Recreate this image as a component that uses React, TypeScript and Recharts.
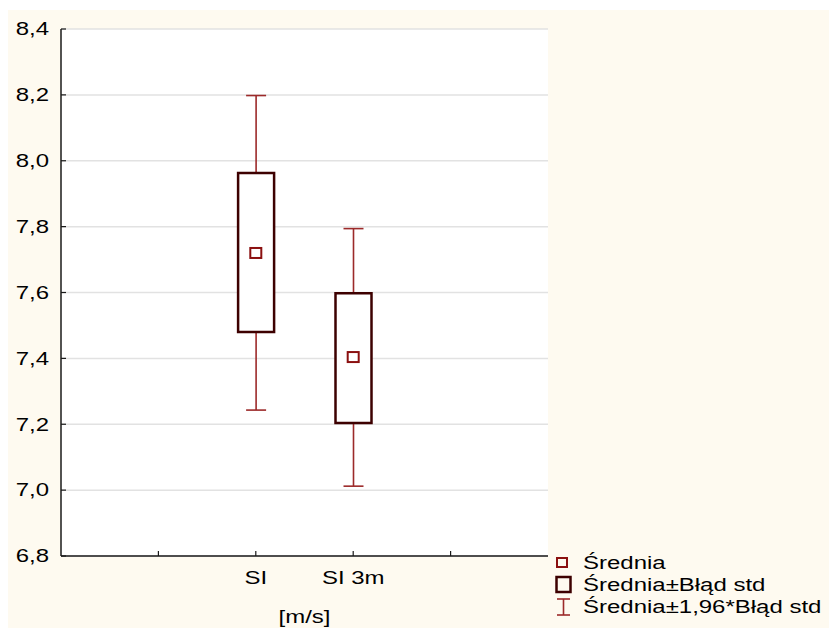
import React from 'react';
import { ComposedChart, Bar, Scatter, XAxis, YAxis, CartesianGrid } from 'recharts';

const categories = ['SI', 'SI 3m'];
const positions = [2, 3];
const means = [7.72, 7.404];
const seLow = [7.48, 7.204];
const seHigh = [7.963, 7.598];
const ciLow = [7.243, 7.012];
const ciHigh = [8.198, 7.794];
const yTicks = [6.8, 7.0, 7.2, 7.4, 7.6, 7.8, 8.0, 8.2, 8.4];
const xTicks = [1, 2, 3, 4];
const xDomain = [0, 5];
const xAxisTitle = '[m/s]';
const legendLabels = ['Średnia', 'Średnia±Błąd std', 'Średnia±1,96*Błąd std'];

const data = categories.map((c, i) => ({
  name: c,
  x: positions[i],
  mean: means[i],
  box: [seLow[i], seHigh[i]],
  whisker: [ciLow[i], ciHigh[i]],
}));

const WHISKER = '#9c2a2a';
const BOX = '#3d0000';
const MEAN = '#8b1010';
const FONT = '"Liberation Sans", Arial, sans-serif';
const STRETCH = 1.37;
const FS = 17.5;

const WhiskerShape = (props: any) => {
  const { x, y, width, height } = props;
  const top = Math.min(y, y + height);
  const bot = Math.max(y, y + height);
  const cx = x + width / 2;
  return (
    <g stroke={WHISKER} strokeWidth={1.6}>
      <line x1={cx} x2={cx} y1={top} y2={bot} />
      <line x1={x} x2={x + width} y1={top} y2={top} />
      <line x1={x} x2={x + width} y1={bot} y2={bot} />
    </g>
  );
};

const MeanShape = (props: any) => {
  const { cx, cy } = props;
  return <rect x={cx - 5.5} y={cy - 5} width={11} height={10} fill="none" stroke={MEAN} strokeWidth={2} />;
};

const xFmt = (v: number) => {
  const i = positions.indexOf(v);
  return i >= 0 ? categories[i] : '';
};
const yFmt = (v: number) => v.toFixed(1).replace('.', ',');

const YTick = (props: any) => {
  const { x, y, payload } = props;
  return (
    <text transform={`translate(${x},${y}) scale(${STRETCH},1)`} x={0} y={0} dy="0.36em" textAnchor="end" fill="#000" fontSize={FS} fontFamily={FONT}>
      {yFmt(payload.value)}
    </text>
  );
};

const XTick = (props: any) => {
  const { x, y, payload } = props;
  return (
    <text transform={`translate(${x},${y}) scale(${STRETCH},1)`} x={0} y={0} dy="0.71em" textAnchor="middle" fill="#000" fontSize={FS} fontFamily={FONT}>
      {xFmt(payload.value)}
    </text>
  );
};

const XTitle = (props: any) => {
  const vb = props.viewBox || {};
  const cx = vb.x + vb.width / 2;
  const by = vb.y + vb.height - 5;
  return (
    <text transform={`translate(${cx},${by}) scale(${STRETCH},1)`} x={0} y={0} textAnchor="middle" fill="#000" fontSize={FS} fontFamily={FONT}>
      {xAxisTitle}
    </text>
  );
};

const rowStyle: React.CSSProperties = { display: 'flex', alignItems: 'center', height: 22 };
const txtStyle: React.CSSProperties = { display: 'inline-block', transform: `scaleX(${STRETCH})`, transformOrigin: 'left center', whiteSpace: 'nowrap' };

const LegendBox = () => (
  <div style={{ position: 'absolute', left: 548, top: 542, fontFamily: FONT, fontSize: FS, color: '#000' }}>
    <div style={rowStyle}>
      <svg width={28} height={22}>
        <rect x={2} y={6} width={10} height={9} fill="none" stroke={MEAN} strokeWidth={2} />
      </svg>
      <span style={txtStyle}>{legendLabels[0]}</span>
    </div>
    <div style={rowStyle}>
      <svg width={28} height={22}>
        <rect x={1.5} y={3} width={14} height={15} fill="none" stroke={BOX} strokeWidth={2.5} />
      </svg>
      <span style={txtStyle}>{legendLabels[1]}</span>
    </div>
    <div style={rowStyle}>
      <svg width={28} height={22}>
        <g stroke={WHISKER} strokeWidth={1.6}>
          <line x1={8.5} x2={8.5} y1={3} y2={19} />
          <line x1={2} x2={15} y1={3} y2={3} />
          <line x1={2} x2={15} y1={19} y2={19} />
        </g>
      </svg>
      <span style={txtStyle}>{legendLabels[2]}</span>
    </div>
  </div>
);

export default function App() {
  return (
    <div style={{ position: 'relative', width: 830, height: 618, marginTop: 2, marginLeft: -1, background: '#fefaf0', fontFamily: FONT }}>
      <ComposedChart width={830} height={618} data={data} margin={{ top: 19, right: 289, bottom: 0, left: 0 }} style={{ fontFamily: FONT }}>
        <CartesianGrid xAxisId="b" yAxisId="l" horizontal vertical={false} stroke="#e2e2e2" strokeWidth={1.5} fill="#ffffff" />
        <XAxis xAxisId="w" dataKey="x" type="number" domain={xDomain} hide allowDataOverflow />
        <XAxis
          xAxisId="b"
          dataKey="x"
          type="number"
          domain={xDomain}
          ticks={xTicks}
          interval={0}
          allowDataOverflow
          height={72}
          tickSize={-5}
          tickMargin={21}
          axisLine={{ stroke: '#1a1a1a', strokeWidth: 1.5 }}
          tickLine={{ stroke: '#1a1a1a', strokeWidth: 1.2 }}
          tick={<XTick />}
          label={<XTitle />}
        />
        <XAxis
          xAxisId="t"
          orientation="top"
          dataKey="x"
          type="number"
          domain={xDomain}
          ticks={xTicks}
          interval={0}
          allowDataOverflow
          height={0}
          tickSize={-5}
          tick={false}
          axisLine={{ stroke: '#1a1a1a', strokeWidth: 1.5 }}
          tickLine={{ stroke: '#1a1a1a', strokeWidth: 1.2 }}
        />
        <YAxis
          yAxisId="l"
          type="number"
          domain={[6.8, 8.4]}
          ticks={yTicks}
          interval={0}
          allowDataOverflow
          width={54}
          tickSize={-5}
          tickMargin={17}
          axisLine={{ stroke: '#1a1a1a', strokeWidth: 1.5 }}
          tickLine={{ stroke: '#1a1a1a', strokeWidth: 1.2 }}
          tick={<YTick />}
        />
        <YAxis
          yAxisId="r"
          orientation="right"
          type="number"
          domain={[6.8, 8.4]}
          ticks={yTicks}
          interval={0}
          allowDataOverflow
          width={0}
          tickSize={-5}
          tick={false}
          axisLine={{ stroke: '#1a1a1a', strokeWidth: 1.5 }}
          tickLine={{ stroke: '#1a1a1a', strokeWidth: 1.2 }}
        />
        <Bar xAxisId="w" yAxisId="l" dataKey="whisker" barSize={20} shape={WhiskerShape} isAnimationActive={false} />
        <Bar xAxisId="b" yAxisId="l" dataKey="box" barSize={36} fill="#ffffff" stroke={BOX} strokeWidth={2.5} isAnimationActive={false} />
        <Scatter xAxisId="b" yAxisId="l" dataKey="mean" shape={MeanShape} isAnimationActive={false} />
      </ComposedChart>
      <LegendBox />
    </div>
  );
}
